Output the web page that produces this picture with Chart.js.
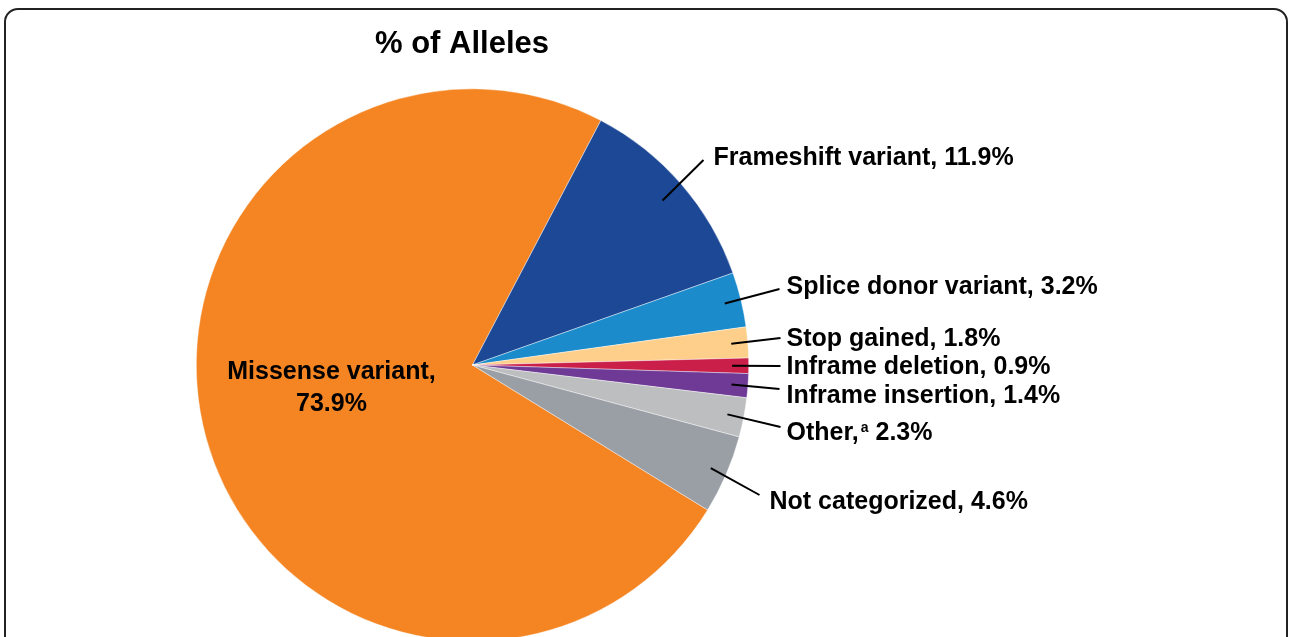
<!DOCTYPE html>
<html>
<head>
<meta charset="utf-8">
<script src="https://cdn.jsdelivr.net/npm/chart.js@4/dist/chart.umd.min.js"></script>
<style>
  html, body { margin: 0; padding: 0; background: #fff; overflow: hidden; }
  #wrap { position: relative; width: 1290px; height: 680px; }
  #frame {
    position: absolute; left: 4px; top: 8px; width: 1280px; height: 720px;
    border: 2px solid #222; border-radius: 14px;
  }
  #chartBox { position: absolute; left: 0; top: 0; width: 1290px; height: 680px; }
</style>
</head>
<body>
<div id="wrap">
  <div id="frame"></div>
  <div id="chartBox"><canvas id="pie"></canvas></div>
</div>
<script>
// chart data
const title = '% of Alleles';
const categories = ['Missense variant', 'Frameshift variant', 'Splice donor variant', 'Stop gained',
  'Inframe deletion', 'Inframe insertion', 'Other', 'Not categorized'];
const percentages = [73.9, 11.9, 3.2, 1.8, 0.9, 1.4, 2.3, 4.6];
const footnotes = ['', '', '', '', '', '', 'a', ''];

const sliceColors = ['#f48522', '#1c4896', '#1b8bcb', '#fecf8a', '#c91f48', '#6f3996', '#bdbec0', '#9a9ea5'];

// where each label sits, px from the pie centre (leader line end + text baseline start)
const labelSpots = [
  { inside: true, tx: -141, ty: 14, lineGap: 32 },
  { lx: 231, ly: -205, tx: 241, ty: -200, r: 0.91 },
  { lx: 307, ly: -76, tx: 314, ty: -71 },
  { lx: 308, ly: -27, tx: 314, ty: -19 },
  { lx: 308, ly: 1, tx: 314, ty: 9 },
  { lx: 307, ly: 24, tx: 314, ty: 38 },
  { lx: 308, ly: 62, tx: 314, ty: 75 },
  { lx: 287, ly: 130, tx: 297, ty: 144 }
];

const labelFont = 'bold 25px "Liberation Sans", Arial, Helvetica, sans-serif';
const supFont = 'bold 14px "Liberation Sans", Arial, Helvetica, sans-serif';

const pieLabels = {
  id: 'pieLabels',
  afterDraw(chart) {
    const ctx = chart.ctx;
    const meta = chart.getDatasetMeta(0);
    ctx.save();
    ctx.fillStyle = '#000';
    ctx.strokeStyle = '#000';
    ctx.lineWidth = 2;
    ctx.textBaseline = 'alphabetic';

    // title
    ctx.font = 'bold 31px "Liberation Sans", Arial, Helvetica, sans-serif';
    ctx.textAlign = 'center';
    ctx.fillText(title, 462, 53);

    meta.data.forEach((arc, i) => {
      const p = arc.getProps(['x', 'y', 'startAngle', 'endAngle', 'outerRadius'], true);
      const mid = (p.startAngle + p.endAngle) / 2;
      const spot = labelSpots[i];
      const pct = percentages[i].toFixed(1) + '%';
      ctx.font = labelFont;
      if (spot.inside) {
        ctx.textAlign = 'center';
        ctx.fillText(categories[i] + ',', p.x + spot.tx, p.y + spot.ty);
        ctx.fillText(pct, p.x + spot.tx, p.y + spot.ty + spot.lineGap);
        return;
      }
      const r0 = p.outerRadius * (spot.r || 0.94);
      ctx.beginPath();
      ctx.moveTo(p.x + Math.cos(mid) * r0, p.y + Math.sin(mid) * r0);
      ctx.lineTo(p.x + spot.lx, p.y + spot.ly);
      ctx.stroke();

      ctx.textAlign = 'left';
      let x = p.x + spot.tx;
      const y = p.y + spot.ty;
      if (footnotes[i]) {
        const head = categories[i] + ',';
        ctx.fillText(head, x, y);
        x += ctx.measureText(head).width + 2;
        ctx.font = supFont;
        ctx.fillText(footnotes[i], x, y - 8);
        x += ctx.measureText(footnotes[i]).width;
        ctx.font = labelFont;
        ctx.fillText(' ' + pct, x, y);
      } else {
        ctx.fillText(categories[i] + ', ' + pct, x, y);
      }
    });
    ctx.restore();
  }
};

// Missense starts where "Not categorized" ends; Frameshift starts at ~27.7 deg
const startRotation = 27.7 + (100 - percentages[0]) * 3.6;

const config = {
  type: 'pie',
  data: {
    labels: categories,
    datasets: [{
      data: percentages,
      backgroundColor: sliceColors,
      borderColor: 'rgba(255,255,255,0.7)',
      borderWidth: 0.6
    }]
  },
  options: {
    responsive: true,
    maintainAspectRatio: false,
    animation: false,
    rotation: startRotation,
    layout: { padding: { left: 196, right: 541, top: 88, bottom: 38 } },
    plugins: {
      legend: { display: false },
      tooltip: { enabled: false },
      title: { display: false }
    }
  },
  plugins: [pieLabels]
};

const chart = new Chart(document.getElementById('pie').getContext('2d'), config);
</script>
</body>
</html>
